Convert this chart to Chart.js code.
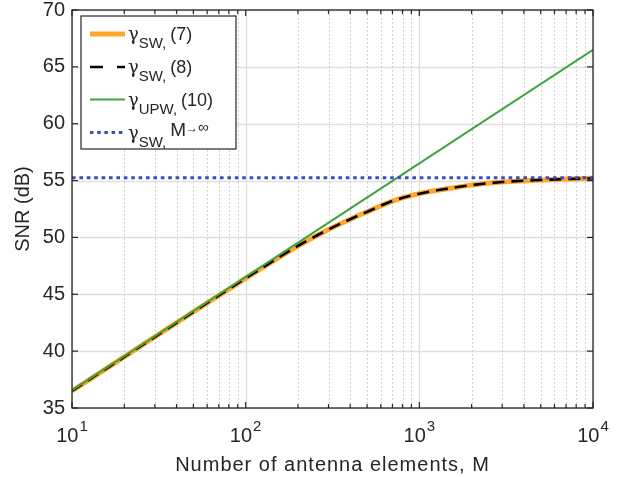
<!DOCTYPE html>
<html>
<head>
<meta charset="utf-8">
<script src="https://cdn.jsdelivr.net/npm/chart.js@4.4.1/dist/chart.umd.min.js"></script>
<style>
  html, body { margin: 0; padding: 0; background: #ffffff; }
  #wrap { width: 627px; height: 477px; }
</style>
</head>
<body>
<div id="wrap"><canvas id="snr-chart" width="627" height="477"></canvas></div>
<script>
// ==================== data ====================

// number of antenna elements M (x axis, log)
const antennaM = [10, 20, 50, 100, 150, 200, 300, 400, 500, 700, 1000, 1500, 2000, 3000, 5000, 7000, 10000];
// gamma_SW, eq (7) -- solid orange
const snrSw7 = [36.5, 39.5, 43.45, 46.4, 48.1, 49.25, 50.7, 51.6, 52.25, 53.2, 53.85, 54.32, 54.6, 54.87, 55.05, 55.13, 55.2];
// gamma_SW, eq (8) -- black dashed, sits on top of (7)
const snrSw8 = [36.5, 39.5, 43.45, 46.4, 48.1, 49.25, 50.7, 51.6, 52.25, 53.2, 53.85, 54.32, 54.6, 54.87, 55.05, 55.13, 55.2];
// gamma_UPW, eq (10) -- straight line on log axis
const upwM = [10, 10000];
const snrUpw10 = [36.55, 66.5];
// gamma_SW, M -> infinity -- dotted asymptote
const limitM = [10, 10000];
const snrLimit = [55.25, 55.25];

// axis ticks
const yTicks = [35, 40, 45, 50, 55, 60, 65, 70];
const xDecadeExponents = [1, 2, 3, 4];

const TEXT = '#262626';
const FONT = '"Liberation Sans", Arial, Helvetica, sans-serif';

const toPoints = (xs, ys) => xs.map((m, i) => ({ x: m, y: ys[i] }));

// ==================== drawing helpers ====================

function strokeLine(ctx, x1, y1, x2, y2) {
  ctx.beginPath();
  ctx.moveTo(x1, y1);
  ctx.lineTo(x2, y2);
  ctx.stroke();
}

/** all tick values of the log axis (1..9 x 10^n) */
function logTickValues() {
  const vals = [];
  const first = xDecadeExponents[0];
  const last = xDecadeExponents[xDecadeExponents.length - 1];
  for (let e = first; e < last; e++) {
    for (let k = 1; k < 10; k++) vals.push(k * Math.pow(10, e));
  }
  vals.push(Math.pow(10, last));
  return vals;
}
const isDecade = v => Math.abs(Math.log10(v) - Math.round(Math.log10(v))) < 1e-9;

/** draws text pieces one after another: [{t, size, dy}] */
function drawPieces(ctx, x, baseY, pieces) {
  let cx = x;
  pieces.forEach(p => {
    ctx.font = `${p.size}px ${p.font || FONT}`;
    ctx.fillText(p.t, cx, baseY + (p.dy || 0));
    cx += ctx.measureText(p.t).width + (p.gap || 0);
  });
}

// ==================== MATLAB-like axes plugin ====================

const matlabAxes = {
  id: 'matlabAxes',
  beforeDatasetsDraw(chart) {
    const { ctx, chartArea: a, scales: { x, y } } = chart;
    ctx.save();
    // horizontal major grid
    ctx.strokeStyle = '#dedede';
    ctx.lineWidth = 1.3;
    yTicks.forEach(v => {
      const py = Math.round(y.getPixelForValue(v)) + 0.5;
      strokeLine(ctx, a.left, py, a.right, py);
    });
    // vertical grid: solid for decades, dotted for minor
    logTickValues().forEach(v => {
      const px = Math.round(x.getPixelForValue(v)) + 0.5;
      if (isDecade(v)) {
        ctx.strokeStyle = '#dedede';
        ctx.lineWidth = 1.3;
        ctx.setLineDash([]);
      } else {
        ctx.strokeStyle = '#c4c4c4';
        ctx.lineWidth = 1;
        ctx.setLineDash([1.5, 2.5]);
      }
      strokeLine(ctx, px, a.top, px, a.bottom);
    });
    ctx.restore();
  },
  afterDatasetsDraw(chart) {
    const { ctx, chartArea: a, scales: { x, y } } = chart;
    ctx.save();

    // box
    ctx.strokeStyle = TEXT;
    ctx.lineWidth = 1.3;
    ctx.strokeRect(a.left, a.top, a.right - a.left, a.bottom - a.top);

    // inside ticks
    ctx.lineWidth = 1.2;
    logTickValues().forEach(v => {
      const px = x.getPixelForValue(v);
      const len = isDecade(v) ? 6 : 4;
      strokeLine(ctx, px, a.bottom, px, a.bottom - len);
      strokeLine(ctx, px, a.top, px, a.top + len);
    });
    yTicks.forEach(v => {
      const py = y.getPixelForValue(v);
      strokeLine(ctx, a.left, py, a.left + 6, py);
      strokeLine(ctx, a.right, py, a.right - 6, py);
    });

    // y tick labels
    ctx.fillStyle = TEXT;
    ctx.font = `20px ${FONT}`;
    ctx.textAlign = 'right';
    ctx.textBaseline = 'middle';
    yTicks.forEach(v => ctx.fillText(String(v), a.left - 7, y.getPixelForValue(v)));

    // x tick labels 10^n
    ctx.textAlign = 'left';
    ctx.textBaseline = 'alphabetic';
    xDecadeExponents.forEach(e => {
      const px = x.getPixelForValue(Math.pow(10, e));
      ctx.font = `20px ${FONT}`;
      const wBase = ctx.measureText('10').width;
      ctx.font = `15px ${FONT}`;
      const wExp = ctx.measureText(String(e)).width;
      const left = px - (wBase + 1 + wExp) / 2;
      ctx.font = `20px ${FONT}`;
      ctx.fillText('10', left, a.bottom + 34);
      ctx.font = `15px ${FONT}`;
      ctx.fillText(String(e), left + wBase + 1, a.bottom + 23);
    });

    // axis titles
    ctx.font = `20px ${FONT}`;
    ctx.textAlign = 'center';
    ctx.textBaseline = 'middle';
    ctx.letterSpacing = '1px';
    ctx.fillText('Number of antenna elements, M', (a.left + a.right) / 2, a.bottom + 57);
    ctx.letterSpacing = '0px';
    ctx.save();
    ctx.translate(23, (a.top + a.bottom) / 2);
    ctx.rotate(-Math.PI / 2);
    ctx.fillText('SNR (dB)', 0, 0);
    ctx.restore();

    ctx.restore();
  },
  afterDraw(chart) {
    // legend with sub-scripted gamma labels
    const { ctx } = chart;
    const box = { x: 81, y: 16, w: 155, h: 133 };
    ctx.save();
    ctx.fillStyle = '#ffffff';
    ctx.fillRect(box.x, box.y, box.w, box.h);
    ctx.strokeStyle = TEXT;
    ctx.lineWidth = 1.2;
    ctx.strokeRect(box.x, box.y, box.w, box.h);

    const rows = [34, 67, 99.5, 132.5];
    const ds = chart.data.datasets;
    const sampleDash = [[], [13, 14], [], [3.5, 3.7]];
    rows.forEach((yc, i) => {
      const d = ds[i];
      ctx.strokeStyle = d.borderColor;
      ctx.lineWidth = d.borderWidth;
      ctx.setLineDash(sampleDash[i]);
      ctx.lineCap = 'butt';
      strokeLine(ctx, 90, yc, 125, yc);
    });
    ctx.setLineDash([]);

    ctx.fillStyle = TEXT;
    ctx.textAlign = 'left';
    ctx.textBaseline = 'alphabetic';
    const sym = '"DejaVu Serif", "Liberation Serif", serif';
    const labels = [
      [{ t: 'γ', size: 18, font: sym }, { t: 'SW,', size: 15, dy: 8, gap: 4 }, { t: '(7)', size: 18 }],
      [{ t: 'γ', size: 18, font: sym }, { t: 'SW,', size: 15, dy: 8, gap: 4 }, { t: '(8)', size: 18 }],
      [{ t: 'γ', size: 18, font: sym }, { t: 'UPW,', size: 15, dy: 8, gap: 4 }, { t: '(10)', size: 18 }],
      [{ t: 'γ', size: 18, font: sym }, { t: 'SW,', size: 15, dy: 8, gap: 4 }, { t: 'M', size: 19, dy: -3 },
       { t: '→', size: 12, dy: -7 }, { t: '∞', size: 15, dy: -7 }]
    ];
    labels.forEach((pieces, i) => drawPieces(ctx, 128, rows[i] + 6, pieces));
    ctx.restore();
  }
};

// ==================== chart ====================

const commonLine = { pointRadius: 0, fill: false, cubicInterpolationMode: 'monotone' };

new Chart(document.getElementById('snr-chart'), {
  type: 'line',
  data: {
    datasets: [
      { ...commonLine, label: 'γSW, (7)', data: toPoints(antennaM, snrSw7),
        borderColor: '#FFA62B', borderWidth: 5, order: 4 },
      { ...commonLine, label: 'γSW, (8)', data: toPoints(antennaM, snrSw8),
        borderColor: '#000000', borderWidth: 2.6, borderDash: [12, 7], order: 3 },
      { ...commonLine, label: 'γUPW, (10)', data: toPoints(upwM, snrUpw10),
        borderColor: '#3DA33D', borderWidth: 2, order: 2 },
      { ...commonLine, label: 'γSW, M→∞', data: toPoints(limitM, snrLimit),
        borderColor: '#3A4BC4', borderWidth: 3.2, borderDash: [3.6, 3.8], order: 1 }
    ]
  },
  options: {
    responsive: false,
    devicePixelRatio: 1,
    animation: false,
    layout: { padding: { left: 72, top: 10, right: 34, bottom: 69 } },
    plugins: { legend: { display: false }, tooltip: { enabled: false } },
    scales: {
      x: {
        type: 'logarithmic', min: 10, max: 10000,
        ticks: { display: false },
        grid: { display: false, drawTicks: false },
        border: { display: false }
      },
      y: {
        type: 'linear', min: 35, max: 70,
        ticks: { display: false, stepSize: 5 },
        grid: { display: false, drawTicks: false },
        border: { display: false }
      }
    }
  },
  plugins: [matlabAxes]
});
</script>
</body>
</html>
